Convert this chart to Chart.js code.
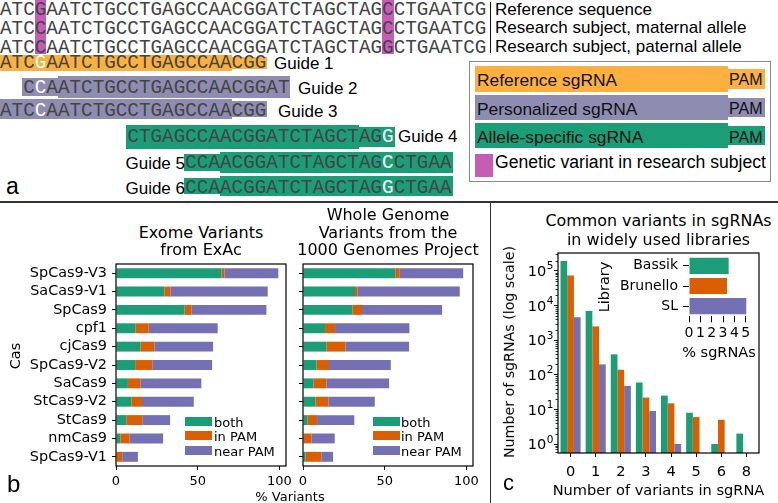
<!DOCTYPE html>
<html>
<head>
<meta charset="utf-8">
<script src="https://cdn.jsdelivr.net/npm/chart.js@4.4.1/dist/chart.umd.min.js"></script>
<style>
  body { margin: 0; background: #fff; }
  #fig { position: relative; width: 778px; height: 503px; overflow: hidden; background: #fff; }
  .abs { position: absolute; white-space: nowrap; }
  canvas { position: absolute; }
</style>
</head>
<body>
<div id="fig"></div>
<script>
// ---- panel a: sequences ----
const REFERENCE = 'ATCGAATCTGCCTGAGCCAACGGATCTAGCTAGCCTGAATCG';
const MATERNAL  = 'ATCCAATCTGCCTGAGCCAACGGATCTAGCTAGCCTGAATCG';
const PATERNAL  = 'ATCCAATCTGCCTGAGCCAACGGATCTAGCTAGGCTGAATCG';
const SEQ_LABELS = ['Reference sequence', 'Research subject, maternal allele', 'Research subject, paternal allele'];
const VARIANT_COLS = [3, 33];

const GUIDE_NAMES = ['Guide 1', 'Guide 2', 'Guide 3', 'Guide 4', 'Guide 5', 'Guide 6'];
const GUIDE_START = [0, 2, 0, 11, 16, 16];
const GUIDE_SEQ = [
  'ATCGAATCTGCCTGAGCCAACGG',
  'CCAATCTGCCTGAGCCAACGGAT',
  'ATCCAATCTGCCTGAGCCAACGG',
  'CTGAGCCAACGGATCTAGCTAGG',
  'CCAACGGATCTAGCTAGCCTGAA',
  'CCAACGGATCTAGCTAGGCTGAA'
];
const GUIDE_TYPE = ['reference', 'personalized', 'personalized', 'allele', 'allele', 'allele'];
const GUIDE_PAM = ['end', 'start', 'end', 'end', 'start', 'start'];
const GUIDE_WHITE = [3, 3, 3, 33, 33, 33];
const GUIDE_LABEL_SIDE = ['right', 'right', 'right', 'right', 'left', 'left'];

const LEGEND_A = ['Reference sgRNA', 'Personalized sgRNA', 'Allele-specific sgRNA'];
const LEGEND_A_TYPE = ['reference', 'personalized', 'allele'];

// ---- panel b ----
const CAS = ['SpCas9-V3', 'SaCas9-V1', 'SpCas9', 'cpf1', 'cjCas9', 'SpCas9-V2', 'SaCas9', 'StCas9-V2', 'StCas9', 'nmCas9', 'SpCas9-V1'];
const VARIANT_KINDS = ['both', 'in PAM', 'near PAM'];
const EXAC_BOTH     = [64.5, 29.6, 42.0, 11.8, 14.9, 11.7, 7.3, 9.4, 6.3, 2.7, 0.3];
const EXAC_IN_PAM   = [1.8, 3.7, 4.3, 8.2, 8.6, 10.5, 7.6, 6.5, 9.8, 5.7, 3.5];
const EXAC_NEAR_PAM = [33.0, 59.5, 45.7, 42.2, 35.9, 36.6, 37.3, 31.7, 17.0, 20.4, 9.6];
const KG_BOTH       = [56.5, 31.8, 30.2, 13.5, 14.3, 8.2, 6.5, 7.6, 2.7, 0.4, 1.6];
const KG_IN_PAM     = [2.7, 1.5, 5.9, 6.1, 11.6, 7.7, 7.8, 7.9, 5.9, 4.7, 9.6];
const KG_NEAR_PAM   = [38.8, 62.6, 49.0, 45.5, 39.0, 37.8, 38.4, 28.4, 22.8, 14.3, 7.2];
const PCT_TICKS = [0, 50, 100];

// ---- panel c ----
const N_VARIANTS = ['0', '1', '2', '3', '4', '5', '6', '8'];
const BASSIK   = [195000, 7000, 390, 60, 25, 8, 1, 2];
const BRUNELLO = [74000, 2500, 140, 22, 15, 6, 5, null];
const SL       = [4600, 200, 48, 9, 1, null, null, null];
const LIBRARIES = ['Bassik', 'Brunello', 'SL'];
const PCT_SGRNAS = [3.5, 3.35, 5.06];
const LOG_TICKS = [1, 10, 100, 1000, 10000, 100000];

const GREEN = '#1b9e77', ORANGE = '#d95f02', PURPLE = '#7570b3';
const BAND = { reference: '#fbb040', personalized: '#8e8cb0', allele: '#1b9e77' };
const MAGENTA = '#c55cb6';

const fig = document.getElementById('fig');
const FONTS = {
  sans: ['"Liberation Sans", Arial, sans-serif', 0.716, 0.846],
  dejavu: ['"DejaVu Sans", sans-serif', 0.729, 0.846],
  mono: ['"Liberation Mono", "Courier New", monospace', 0.58, 0.7665]
};

function box(x, y, w, h, color) {
  const d = document.createElement('div');
  d.className = 'abs';
  Object.assign(d.style, { left: x + 'px', top: y + 'px', width: w + 'px', height: h + 'px', background: color });
  fig.appendChild(d);
  return d;
}

// yc = vertical centre of capital letters
function text(x, yc, str, size, font = 'dejavu', align = 'left', color = '#000') {
  const [family, capH, base] = FONTS[font];
  const d = document.createElement('div');
  d.className = 'abs';
  d.style.fontFamily = family;
  d.style.fontSize = size + 'px';
  d.style.lineHeight = size + 'px';
  d.style.color = color;
  d.style.left = x + 'px';
  d.style.top = (yc + capH * size / 2 - base * size) + 'px';
  if (align === 'center') d.style.transform = 'translateX(-50%)';
  if (align === 'right') d.style.transform = 'translateX(-100%)';
  d.textContent = str;
  fig.appendChild(d);
  return d;
}

function rotText(x, y, str, size, font = 'dejavu') {
  const d = document.createElement('div');
  d.className = 'abs';
  d.style.fontFamily = FONTS[font][0];
  d.style.fontSize = size + 'px';
  d.style.lineHeight = size + 'px';
  d.style.left = x + 'px';
  d.style.top = y + 'px';
  d.style.transform = 'translate(-50%,-50%) rotate(-90deg)';
  d.textContent = str;
  fig.appendChild(d);
}

// ---------- panel a ----------
const CW = 11.58;      // Liberation Mono char width at 19.3px
const MONO = 19.3;
const SEQ_Y = [10, 29, 48];
const SEQ_LABEL_Y = [9, 27.5, 46];

VARIANT_COLS.forEach(c => box(c * CW, 0, CW, 54, MAGENTA));

function seqRow(col0, yc, seq, whiteCol) {
  const d = text(col0 * CW, yc, '', MONO, 'mono', 'left', '#444');
  seq.split('').forEach((ch, i) => {
    const s = document.createElement('span');
    s.textContent = ch;
    if (col0 + i === whiteCol) s.style.color = '#fff';
    d.appendChild(s);
  });
}

[REFERENCE, MATERNAL, PATERNAL].forEach((seq, i) => {
  seqRow(0, SEQ_Y[i], seq, -1);
  text(495, SEQ_LABEL_Y[i], SEQ_LABELS[i], 17, 'sans');
});
box(489.5, 2, 1.6, 51, '#111');

const GUIDE_BAND_Y = [[55, 71], [76, 98], [99, 119], [125, 149], [152, 173], [175.5, 196]];
const GUIDE_TEXT_Y = [63, 88, 111.5, 136.7, 163, 188.3];
const GUIDE_LABEL_X = [274, 298, 278, 398, 185, 185];

GUIDE_SEQ.forEach((seq, i) => {
  const start = GUIDE_START[i], len = seq.length;
  const [y0, y1] = GUIDE_BAND_Y[i];
  const color = BAND[GUIDE_TYPE[i]];
  const pamStart = GUIDE_PAM[i] === 'end' ? start + len - 3 : start;
  const mainStart = GUIDE_PAM[i] === 'end' ? start : start + 3;
  const x = c => Math.max(0, c * CW);
  box(x(mainStart) - (GUIDE_PAM[i] === 'end' ? 1 : 0), y0, (len - 3) * CW + 1, y1 - y0, color);
  box(x(pamStart) - (GUIDE_PAM[i] === 'start' ? 1 : 0), y0 + 2, 3 * CW + 1, y1 - y0 - 4, color);
  seqRow(start, GUIDE_TEXT_Y[i], seq, GUIDE_WHITE[i]);
  text(GUIDE_LABEL_X[i], GUIDE_TEXT_Y[i], GUIDE_NAMES[i], 17, 'sans', GUIDE_LABEL_SIDE[i] === 'left' ? 'right' : 'left');
});

// legend box of panel a
const lg = box(469, 61, 302, 121, 'transparent');
lg.style.border = '1.5px solid #8a8a8a';
lg.style.boxSizing = 'border-box';
const LEG_Y = [[66, 92], [95, 120], [123, 148]];
const LEG_TEXT_Y = [80, 109, 137.5];
LEGEND_A.forEach((name, i) => {
  const [y0, y1] = LEG_Y[i];
  box(475, y0, 253, y1 - y0, BAND[LEGEND_A_TYPE[i]]);
  box(728, y0 + 3, 37, y1 - y0 - 6, BAND[LEGEND_A_TYPE[i]]);
  text(477, LEG_TEXT_Y[i], name, 17.4, 'sans', 'left', '#111');
  text(729, LEG_TEXT_Y[i], 'PAM', 16, 'sans', 'left', '#111');
});
box(475, 154, 18, 23, MAGENTA);
text(495, 163, 'Genetic variant in research subject', 17.6, 'sans');

text(6, 186, 'a', 23, 'sans');

// dividers
box(0, 201, 778, 2, '#333');
box(489.5, 202, 1.6, 301, '#333');

// ---------- charts ----------
Chart.defaults.font.family = '"DejaVu Sans", sans-serif';
Chart.defaults.color = '#000';

function makeCanvas(x, y, w, h) {
  const c = document.createElement('canvas');
  c.width = w; c.height = h;
  c.style.left = x + 'px'; c.style.top = y + 'px';
  c.style.width = w + 'px'; c.style.height = h + 'px';
  fig.appendChild(c);
  return c;
}

const framePlugin = {
  id: 'frame',
  afterDatasetsDraw(chart) {
    const { left, top, right, bottom } = chart.chartArea;
    const ctx = chart.ctx;
    ctx.save();
    ctx.strokeStyle = '#000';
    ctx.lineWidth = 1.2;
    ctx.strokeRect(left, top, right - left, bottom - top);
    ctx.restore();
  }
};

const tickGrid = len => ({ display: true, drawOnChartArea: false, drawTicks: true, tickLength: len, tickColor: '#000', tickWidth: 1, offset: false });

function variantChart(canvas, both, inPam, nearPam, yWidth, padRight, showNames) {
  return new Chart(canvas, {
    type: 'bar',
    data: {
      labels: CAS,
      datasets: [
        { label: VARIANT_KINDS[0], data: both, backgroundColor: GREEN },
        { label: VARIANT_KINDS[1], data: inPam, backgroundColor: ORANGE },
        { label: VARIANT_KINDS[2], data: nearPam, backgroundColor: PURPLE }
      ]
    },
    options: {
      indexAxis: 'y', responsive: false, animation: false,
      layout: { padding: { top: 9, right: padRight, left: 0, bottom: 0 } },
      datasets: { bar: { barPercentage: 0.54, categoryPercentage: 1, borderWidth: 0 } },
      plugins: { legend: { display: false }, tooltip: { enabled: false } },
      scales: {
        x: {
          stacked: true, min: 0, max: 104,
          afterBuildTicks: s => { s.ticks = PCT_TICKS.map(v => ({ value: v })); },
          ticks: { font: { size: 13 }, padding: 4, maxRotation: 0, autoSkip: false },
          grid: tickGrid(4), border: { display: false },
          afterFit: s => { s.height = 24; s.paddingLeft = 0; s.paddingRight = 0; }
        },
        y: {
          stacked: true,
          ticks: { font: { size: 14.4 }, padding: 5, autoSkip: false, callback: (v, i) => showNames ? CAS[i] : '' },
          grid: tickGrid(4), border: { display: false },
          afterFit: s => { s.width = yWidth; s.paddingTop = 0; s.paddingBottom = 0; }
        }
      }
    },
    plugins: [framePlugin]
  });
}

variantChart(makeCanvas(0, 255, 292, 235), EXAC_BOTH, EXAC_IN_PAM, EXAC_NEAR_PAM, 116, 6, true);
variantChart(makeCanvas(290, 255, 190, 235), KG_BOTH, KG_IN_PAM, KG_NEAR_PAM, 13, 7, false);

// panel b texts
text(201, 233, 'Exome Variants', 16, 'dejavu', 'center');
text(201, 250, 'from ExAc', 16, 'dejavu', 'center');
text(388, 215, 'Whole Genome', 16, 'dejavu', 'center');
text(388, 232.5, 'Variants from the', 16, 'dejavu', 'center');
text(388, 250, '1000 Genomes Project', 16, 'dejavu', 'center');
text(290, 496, '% Variants', 13, 'dejavu', 'center');
rotText(15, 356, 'Cas', 14.5);
text(7, 484, 'b', 24, 'sans');

function variantLegend(px, tx) {
  const rows = [421.3, 435.8, 450.4];
  [GREEN, ORANGE, PURPLE].forEach((c, i) => {
    box(px, rows[i] - 4.6, 27, 9.2, c);
    text(tx, rows[i] + 0.5, VARIANT_KINDS[i], 13, 'dejavu');
  });
}
variantLegend(185, 214);
variantLegend(373, 401);

// panel c main: minor log ticks and power-of-ten labels
const logAxisDecor = {
  id: 'logAxisDecor',
  afterDraw(chart) {
    const s = chart.scales.y, ctx = chart.ctx;
    ctx.save();
    ctx.strokeStyle = '#000';
    ctx.lineWidth = 0.8;
    for (let e = -1; e <= 5; e++) {
      for (let m = 2; m <= 9; m++) {
        const v = m * Math.pow(10, e);
        if (v < s.min || v > s.max) continue;
        const y = Math.round(s.getPixelForValue(v)) + 0.5;
        ctx.beginPath(); ctx.moveTo(s.right - 2.5, y); ctx.lineTo(s.right, y); ctx.stroke();
      }
    }
    ctx.fillStyle = '#000';
    ctx.textAlign = 'right';
    LOG_TICKS.forEach(v => {
      const y = s.getPixelForValue(v);
      const exp = String(Math.round(Math.log10(v)));
      ctx.font = '10.5px "DejaVu Sans"';
      const ew = ctx.measureText(exp).width;
      const xr = s.right - 4.5;
      ctx.textBaseline = 'alphabetic';
      ctx.fillText(exp, xr, y - 1.5);
      ctx.font = '14.6px "DejaVu Sans"';
      ctx.fillText('10', xr - ew - 0.5, y + 5.3);
    });
    ctx.restore();
  }
};

new Chart(makeCanvas(492, 245, 286, 258), {
  type: 'bar',
  data: {
    labels: N_VARIANTS,
    datasets: [
      { label: LIBRARIES[0], data: BASSIK, backgroundColor: GREEN },
      { label: LIBRARIES[1], data: BRUNELLO, backgroundColor: ORANGE },
      { label: LIBRARIES[2], data: SL, backgroundColor: PURPLE }
    ]
  },
  options: {
    responsive: false, animation: false,
    layout: { padding: { top: 8, right: 19, left: 0, bottom: 0 } },
    datasets: { bar: { barPercentage: 1, categoryPercentage: 0.8, borderWidth: 0 } },
    plugins: { legend: { display: false }, tooltip: { enabled: false } },
    scales: {
      x: {
        ticks: { font: { size: 14.6 }, padding: 6, maxRotation: 0, autoSkip: false },
        grid: tickGrid(4), border: { display: false },
        afterFit: s => { s.height = 50; s.paddingLeft = 0; s.paddingRight = 0; }
      },
      y: {
        type: 'logarithmic', min: 0.55, max: 331000,
        afterBuildTicks: s => { s.ticks = LOG_TICKS.map(v => ({ value: v })); },
        ticks: { font: { size: 14.6 }, padding: 0, autoSkip: false, callback: () => '' },
        grid: tickGrid(4), border: { display: false },
        afterFit: s => { s.width = 66; s.paddingTop = 0; s.paddingBottom = 0; }
      }
    }
  },
  plugins: [framePlugin, logAxisDecor]
});

// panel c inset
new Chart(makeCanvas(612, 250, 150, 110), {
  type: 'bar',
  data: {
    labels: LIBRARIES,
    datasets: [{ data: PCT_SGRNAS, backgroundColor: [GREEN, ORANGE, PURPLE] }]
  },
  options: {
    indexAxis: 'y', responsive: false, animation: false,
    layout: { padding: { top: 5.7, right: 15.2, left: 0, bottom: 0 } },
    datasets: { bar: { barPercentage: 0.8, categoryPercentage: 1, borderWidth: 0 } },
    plugins: { legend: { display: false }, tooltip: { enabled: false } },
    scales: {
      x: {
        min: 0, max: 5.1,
        ticks: { stepSize: 1, includeBounds: false, font: { size: 14 }, padding: 3, maxRotation: 0, autoSkip: false },
        grid: tickGrid(6), border: { display: false },
        afterFit: s => { s.height = 43.7; s.paddingLeft = 0; s.paddingRight = 0; }
      },
      y: {
        ticks: { font: { size: 14 }, padding: 5, autoSkip: false },
        grid: tickGrid(6), border: { display: false },
        afterFit: s => { s.width = 77; s.paddingTop = 0; s.paddingBottom = 0; }
      }
    }
  }
});

// panel c texts
text(658.5, 221, 'Common variants in sgRNAs', 15.9, 'dejavu', 'center');
text(658.5, 239.5, 'in widely used libraries', 15.9, 'dejavu', 'center');
rotText(509, 352, 'Number of sgRNAs (log scale)', 14.2);
rotText(604, 287, 'Library', 14.5);
text(719, 352, '% sgRNAs', 14.5, 'dejavu', 'center');
text(658.5, 490, 'Number of variants in sgRNA', 14.6, 'dejavu', 'center');
text(503, 483, 'c', 22, 'sans');
</script>
</body>
</html>
